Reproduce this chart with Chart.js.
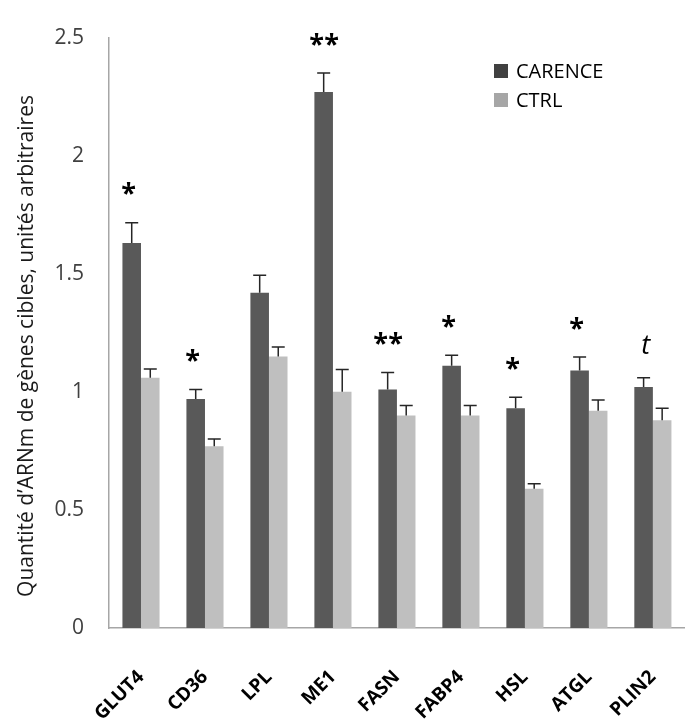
<!DOCTYPE html>
<html>
<head>
<meta charset="utf-8">
<script src="https://cdn.jsdelivr.net/npm/chart.js@4.4.1/dist/chart.umd.min.js"></script>
<style>
  html, body { margin: 0; padding: 0; background: #fff; overflow: hidden; }
  #wrap { width: 707px; height: 719px; }
</style>
</head>
<body>
<div id="wrap"><canvas id="chart" width="707" height="719"></canvas></div>
<script>
// valeurs
const genes = ['GLUT4', 'CD36', 'LPL', 'ME1', 'FASN', 'FABP4', 'HSL', 'ATGL', 'PLIN2'];
const carence = [1.63, 0.97, 1.42, 2.27, 1.01, 1.11, 0.93, 1.09, 1.02];
const carenceSem = [0.086, 0.04, 0.074, 0.08, 0.072, 0.045, 0.047, 0.057, 0.04];
const ctrl = [1.06, 0.77, 1.15, 1.00, 0.90, 0.90, 0.59, 0.92, 0.88];
const ctrlSem = [0.037, 0.03, 0.04, 0.095, 0.042, 0.042, 0.021, 0.045, 0.051];
const signif = ['*', '*', '', '**', '**', '*', '*', '*', 't'];
const yTicks = [0, 0.5, 1, 1.5, 2, 2.5];

const FONT = '"Open Sans", "Noto Sans", sans-serif';

// barres d'erreur + etoiles + legende + titre de l'axe
const extras = {
    id: 'extras',
    afterDatasetsDraw(chart) {
        const ctx = chart.ctx;
        const y = chart.scales.y;
        const sems = [carenceSem, ctrlSem];
        ctx.save();
        ctx.strokeStyle = '#262626';
        ctx.lineWidth = 1.5;
        chart.data.datasets.forEach((ds, d) => {
            chart.getDatasetMeta(d).data.forEach((bar, i) => {
                const top = y.getPixelForValue(ds.data[i] + sems[d][i]);
                ctx.beginPath();
                ctx.moveTo(bar.x, bar.y);
                ctx.lineTo(bar.x, top);
                ctx.moveTo(bar.x - 6.5, top);
                ctx.lineTo(bar.x + 6.5, top);
                ctx.stroke();
            });
        });

        // significativite au-dessus des barres CARENCE
        ctx.fillStyle = '#000';
        ctx.textAlign = 'center';
        ctx.textBaseline = 'middle';
        chart.getDatasetMeta(0).data.forEach((bar, i) => {
            const s = signif[i];
            if (!s) return;
            const top = y.getPixelForValue(carence[i] + carenceSem[i]);
            if (s === 't') {
                ctx.font = 'italic 27px ' + FONT;
                ctx.fillText(s, bar.x + 2, top - 31);
            } else {
                ctx.font = 'bold 27px ' + FONT;
                if (s.length === 1) {
                    ctx.fillText(s, bar.x - 3, top - 28);
                } else {
                    ctx.fillText('*', bar.x - 7, top - 28);
                    ctx.fillText('*', bar.x + 8, top - 28);
                }
            }
        });

        // legende
        ctx.font = '20px ' + FONT;
        ctx.textAlign = 'left';
        ctx.textBaseline = 'middle';
        ctx.fillStyle = '#404040';
        ctx.fillRect(494, 64, 14, 14);
        ctx.fillStyle = '#a6a6a6';
        ctx.fillRect(494, 93, 14, 14);
        ctx.fillStyle = '#000';
        ctx.fillText('CARENCE', 516, 72);
        ctx.fillText('CTRL', 516, 101);

        // titre axe y
        ctx.translate(27, 346);
        ctx.rotate(-Math.PI / 2);
        ctx.textAlign = 'center';
        ctx.font = '21px ' + FONT;
        ctx.fillStyle = '#1a1a1a';
        ctx.fillText('Quantité d\u2019ARNm de gènes cibles, unités arbitraires', 0, 0);
        ctx.restore();
    }
};

const ctx = document.getElementById('chart').getContext('2d');
new Chart(ctx, {
    type: 'bar',
    data: {
        labels: genes,
        datasets: [
            {
                label: 'CARENCE',
                data: carence,
                backgroundColor: '#595959',
                categoryPercentage: 0.58,
                barPercentage: 1.0
            },
            {
                label: 'CTRL',
                data: ctrl,
                backgroundColor: '#bfbfbf',
                categoryPercentage: 0.58,
                barPercentage: 1.0
            }
        ]
    },
    options: {
        responsive: false,
        animation: false,
        devicePixelRatio: 1,
        layout: { padding: { top: 25, right: 0, bottom: 0, left: 0 } },
        plugins: {
            legend: { display: false },
            tooltip: { enabled: false }
        },
        scales: {
            x: {
                grid: { display: false, drawTicks: false },
                border: { display: true, color: '#a6a6a6', width: 1.5 },
                ticks: {
                    color: '#000',
                    minRotation: 45,
                    maxRotation: 45,
                    padding: 38,
                    font: { family: FONT, size: 19, weight: 'bold' }
                },
                afterFit(scale) { scale.height = 91; }
            },
            y: {
                min: 0,
                max: 2.5,
                grid: { display: false, drawTicks: false },
                border: { display: true, color: '#a6a6a6', width: 1.5 },
                afterBuildTicks(scale) { scale.ticks = yTicks.map(v => ({ value: v })); },
                ticks: {
                    color: '#404040',
                    padding: 25,
                    font: { family: FONT, size: 21 },
                    callback: (v) => String(v)
                },
                afterFit(scale) { scale.width = 109; }
            }
        }
    },
    plugins: [extras]
});
</script>
</body>
</html>
